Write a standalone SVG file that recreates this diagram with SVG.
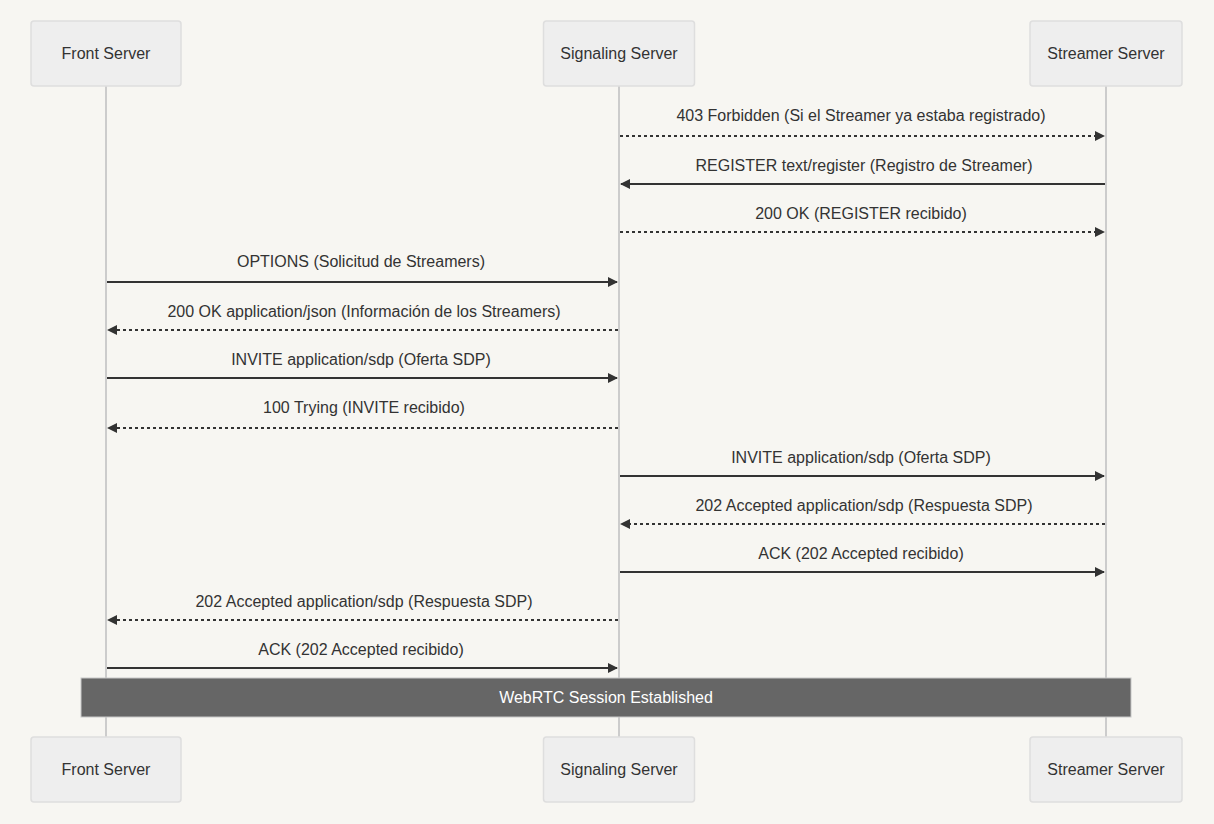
<svg xmlns="http://www.w3.org/2000/svg" width="1214" height="824" viewBox="0 0 1214 824">
<style>
text{font-family:"Liberation Sans",Arial,sans-serif;font-size:16px;fill:#333;text-anchor:middle;dominant-baseline:central}
.actor rect{fill:#eeeeee;stroke:#dedede;stroke-width:1.5}
.life{stroke:#cccccc;stroke-width:2}
.msg{stroke:#333;stroke-width:2;fill:none}
.dot{stroke-dasharray:3 3}
.note rect{fill:#666666;stroke:#c8c8c8;stroke-width:1}
.note text{fill:#ffffff}
</style>
<defs>
<marker id="ar" viewBox="0 0 10 10" refX="9" refY="5" markerWidth="10" markerHeight="10" markerUnits="userSpaceOnUse" orient="auto">
<path d="M0,0 L10,5 L0,10 z" fill="#333"/>
</marker>
</defs>
<rect width="1214" height="824" fill="#f7f6f2"/>
<g id="lifelines">
<line class="life" x1="106" y1="86" x2="106" y2="737"/>
<line class="life" x1="619" y1="86" x2="619" y2="737"/>
<line class="life" x1="1106" y1="86" x2="1106" y2="737"/>
</g>
<g id="actor-front-top" class="actor"><rect x="31" y="21" width="150" height="65" rx="3"/><text x="106" y="53.5">Front Server</text></g>
<g id="actor-signaling-top" class="actor"><rect x="543.5" y="21" width="151" height="65" rx="3"/><text x="619" y="53.5">Signaling Server</text></g>
<g id="actor-streamer-top" class="actor"><rect x="1030" y="21" width="152" height="65" rx="3"/><text x="1106" y="53.5">Streamer Server</text></g>
<g id="actor-front-bottom" class="actor"><rect x="31" y="737" width="150" height="65" rx="3"/><text x="106" y="769.5">Front Server</text></g>
<g id="actor-signaling-bottom" class="actor"><rect x="543.5" y="737" width="151" height="65" rx="3"/><text x="619" y="769.5">Signaling Server</text></g>
<g id="actor-streamer-bottom" class="actor"><rect x="1030" y="737" width="152" height="65" rx="3"/><text x="1106" y="769.5">Streamer Server</text></g>
<g id="connectors">
<line class="msg dot" x1="620" y1="136" x2="1104" y2="136" marker-end="url(#ar)"/>
<text x="861" y="115">403 Forbidden (Si el Streamer ya estaba registrado)</text>
<line class="msg" x1="1105" y1="184" x2="621" y2="184" marker-end="url(#ar)"/>
<text x="864" y="165">REGISTER text/register (Registro de Streamer)</text>
<line class="msg dot" x1="620" y1="232" x2="1104" y2="232" marker-end="url(#ar)"/>
<text x="861" y="213">200 OK (REGISTER recibido)</text>
<line class="msg" x1="107" y1="282" x2="617" y2="282" marker-end="url(#ar)"/>
<text x="361" y="261">OPTIONS (Solicitud de Streamers)</text>
<line class="msg dot" x1="618" y1="330" x2="108" y2="330" marker-end="url(#ar)"/>
<text x="364" y="311">200 OK application/json (Información de los Streamers)</text>
<line class="msg" x1="107" y1="378" x2="617" y2="378" marker-end="url(#ar)"/>
<text x="361" y="359">INVITE application/sdp (Oferta SDP)</text>
<line class="msg dot" x1="618" y1="428" x2="108" y2="428" marker-end="url(#ar)"/>
<text x="364" y="407">100 Trying (INVITE recibido)</text>
<line class="msg" x1="620" y1="476" x2="1104" y2="476" marker-end="url(#ar)"/>
<text x="861" y="457">INVITE application/sdp (Oferta SDP)</text>
<line class="msg dot" x1="1105" y1="524" x2="621" y2="524" marker-end="url(#ar)"/>
<text x="864" y="505">202 Accepted application/sdp (Respuesta SDP)</text>
<line class="msg" x1="620" y1="572" x2="1104" y2="572" marker-end="url(#ar)"/>
<text x="861" y="553">ACK (202 Accepted recibido)</text>
<line class="msg dot" x1="618" y1="620" x2="108" y2="620" marker-end="url(#ar)"/>
<text x="364" y="601">202 Accepted application/sdp (Respuesta SDP)</text>
<line class="msg" x1="107" y1="668" x2="617" y2="668" marker-end="url(#ar)"/>
<text x="361" y="649">ACK (202 Accepted recibido)</text>
</g>
<g id="note-webrtc" class="note"><rect x="81" y="678" width="1050" height="39"/><text x="606" y="697.5">WebRTC Session Established</text></g>
</svg>
